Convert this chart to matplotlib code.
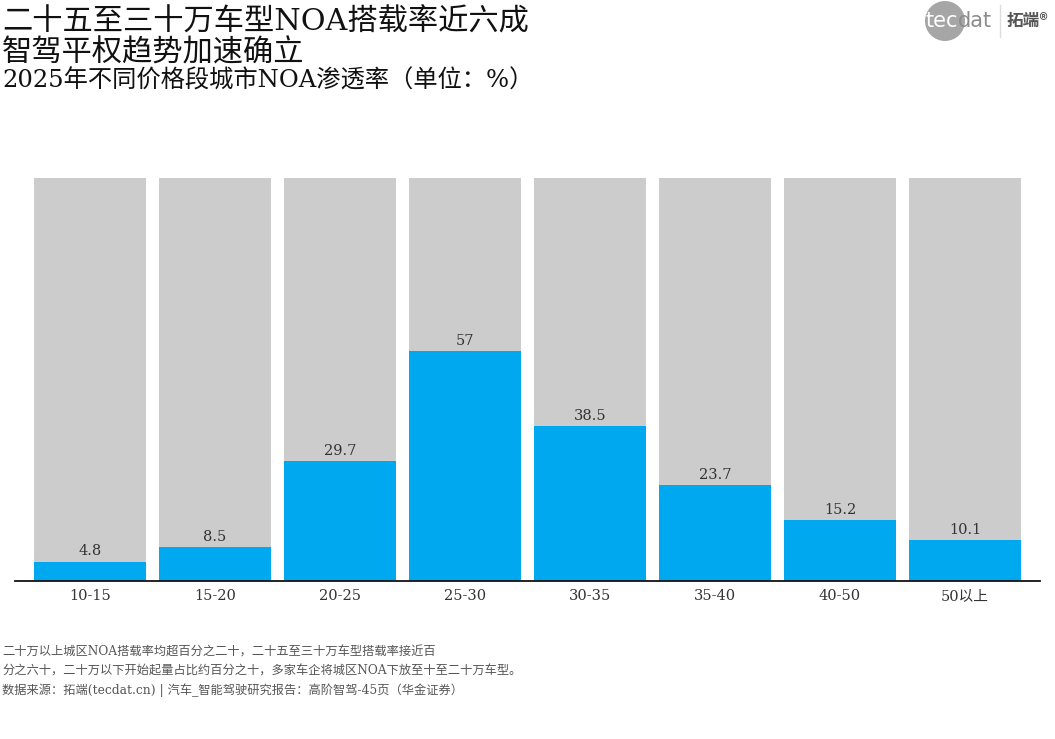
import matplotlib
matplotlib.use("Agg")
import matplotlib.pyplot as plt
from matplotlib.patches import Ellipse
import numpy as np

plt.rcParams['font.family'] = ['DejaVu Serif', 'Noto Sans CJK SC', 'DejaVu Sans']

# data
price_bands = ['10-15', '15-20', '20-25', '25-30', '30-35', '35-40', '40-50', '50以上']
noa_rate = [4.8, 8.5, 29.7, 57, 38.5, 23.7, 15.2, 10.1]
value_labels = ['4.8', '8.5', '29.7', '57', '38.5', '23.7', '15.2', '10.1']
full_scale = [100] * len(price_bands)

title_1 = '二十五至三十万车型NOA搭载率近六成'
title_2 = '智驾平权趋势加速确立'
subtitle = '2025年不同价格段城市NOA渗透率（单位：%）'
note_lines = ['二十万以上城区NOA搭载率均超百分之二十，二十五至三十万车型搭载率接近百',
              '分之六十，二十万以下开始起量占比约百分之十，多家车企将城区NOA下放至十至二十万车型。',
              '数据来源：拓端(tecdat.cn) | 汽车_智能驾驶研究报告：高阶智驾-45页（华金证券）']

W, H = 1055, 739
fig = plt.figure(figsize=(W / 100, H / 100), dpi=100)
ax = fig.add_axes([15 / W, 158 / H, 1025 / W, 403 / H])

x = np.arange(len(price_bands))
ax.bar(x, full_scale, width=0.9, color='#cccccc', zorder=1)
ax.bar(x, noa_rate, width=0.9, color='#00a8f0', zorder=2)
for xi, v, lab in zip(x, noa_rate, value_labels):
    ax.text(xi, v + 0.8, lab, ha='center', va='bottom', fontsize=10.5, color='#333333')

ax.set_xlim(-0.6, 7.6)
ax.set_ylim(0, 100)
ax.set_xticks(x)
ax.set_xticklabels(price_bands, fontsize=10.5, color='#333333')
ax.tick_params(axis='x', length=0, pad=6)
ax.set_yticks([])
for s in ['top', 'right', 'left']:
    ax.spines[s].set_visible(False)
ax.spines['bottom'].set_linewidth(1.3)
ax.spines['bottom'].set_color('#111111')

# titles
fig.text(0.002, 1 - 22 / H, title_1, fontsize=21.8, va='center', ha='left', color='#111111')
fig.text(0.002, 1 - 53 / H, title_2, fontsize=21.8, va='center', ha='left', color='#111111')
fig.text(0.002, 1 - 81 / H, subtitle, fontsize=17.5, va='center', ha='left', color='#111111')

# notes
for i, line in enumerate(note_lines):
    fig.text(0.002, 1 - (652 + i * 19) / H, line, fontsize=8.8, va='center', ha='left', color='#555555')

# logo
fig.patches.append(Ellipse((945 / W, 1 - 21 / H), 40 / W, 40 / H, transform=fig.transFigure,
                           facecolor='#a6a6a6', edgecolor='none'))
fig.text(926 / W, 1 - 21 / H, 'tec', fontsize=15, color='white', va='center', ha='left',
         family='DejaVu Sans')
fig.text(958 / W, 1 - 21 / H, 'dat', fontsize=15, color='#8c8c8c', va='center', ha='left',
         family='DejaVu Sans')
fig.add_artist(plt.Line2D([1000 / W, 1000 / W], [1 - 5 / H, 1 - 37 / H],
                          transform=fig.transFigure, color='#dddddd', lw=1))
fig.text(1007 / W, 1 - 21 / H, '拓端®', fontsize=12, color='#555555', va='center', ha='left',
         family=['Noto Sans CJK SC', 'DejaVu Sans'], weight='bold')

fig.savefig('out.png', dpi=100, facecolor='white')
